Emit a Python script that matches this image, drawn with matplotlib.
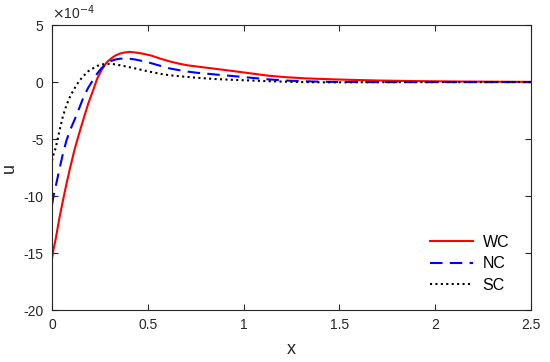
import matplotlib
matplotlib.use("Agg")
import matplotlib.pyplot as plt

plt.rcParams['font.family'] = ['Liberation Sans', 'DejaVu Sans']

x = [0, 0.009, 0.019, 0.038, 0.057, 0.076, 0.095, 0.118, 0.142, 0.165, 0.189, 0.213,
     0.236, 0.26, 0.284, 0.307, 0.331, 0.354, 0.378, 0.406, 0.435, 0.473, 0.52,
     0.567, 0.614, 0.662, 0.709, 0.756, 0.851, 0.945, 1.04, 1.13, 1.23, 1.32,
     1.42, 1.51, 1.70, 1.89, 2.13, 2.5]
wc = [-15.5, -14.6, -13.8, -12.0, -10.4, -8.9, -7.5, -5.9, -4.5, -3.2, -1.9, -0.8,
      0.3, 1.1, 1.7, 2.05, 2.33, 2.5, 2.6, 2.65, 2.6, 2.5, 2.32,
      2.05, 1.82, 1.62, 1.47, 1.37, 1.17, 0.97, 0.76, 0.56, 0.42, 0.33,
      0.27, 0.22, 0.14, 0.09, 0.05, 0.02]
nc = [-10.8, -9.9, -9.2, -7.7, -6.3, -5.1, -4.2, -3.3, -2.3, -1.3, -0.5, 0.15,
      0.75, 1.25, 1.6, 1.85, 1.98, 2.05, 2.07, 2.05, 1.98, 1.85, 1.65,
      1.42, 1.2, 1.05, 0.92, 0.82, 0.67, 0.53, 0.38, 0.24, 0.13, 0.07,
      0.03, 0.01, 0.0, 0.0, 0.0, 0.0]
sc = [-6.9, -6.3, -5.8, -4.35, -3.0, -2.0, -1.25, -0.55, 0.1, 0.55, 0.95, 1.2,
      1.42, 1.55, 1.6, 1.6, 1.55, 1.48, 1.4, 1.3, 1.2, 1.05, 0.88,
      0.72, 0.6, 0.52, 0.45, 0.38, 0.27, 0.2, 0.14, 0.08, 0.03, 0.0,
      -0.02, -0.02, -0.01, 0.0, 0.0, 0.0]

xticks = [0, 0.5, 1, 1.5, 2, 2.5]
xticklabels = ['0', '0.5', '1', '1.5', '2', '2.5']
yticks = [-20, -15, -10, -5, 0, 5]
yticklabels = ['-20', '-15', '-10', '-5', '0', '5']

fig = plt.figure(figsize=(5.5, 3.62), dpi=100)
ax = fig.add_axes([0.0945, 0.1436, 0.871, 0.787])

ax.plot(x, wc, color='#ff0000', lw=1.5, ls='-', label='WC')
ax.plot(x, nc, color='#0000ff', lw=1.5, ls=(0, (6, 3.5)), label='NC')
ax.plot(x, sc, color='black', lw=1.5, ls=(0, (1, 1.6)), label='SC')

ax.set_xlim(0, 2.5)
ax.set_ylim(-20, 5)
ax.set_xticks(xticks)
ax.set_xticklabels(xticklabels)
ax.set_yticks(yticks)
ax.set_yticklabels(yticklabels)
ax.tick_params(direction='in', top=True, right=True, labelsize=10,
               colors='#262626', length=4, width=0.8, pad=6)
for s in ax.spines.values():
    s.set_color('#262626')
    s.set_linewidth(0.8)

ax.set_xlabel('x', fontsize=13, color='#262626', labelpad=6)
ax.set_ylabel('u', fontsize=13, color='#262626', labelpad=4)
ax.text(0.0, 1.01, r'$\times$10$^{-4}$', transform=ax.transAxes, fontsize=10,
        color='#262626', ha='left', va='bottom')

leg = ax.legend(loc='upper left', frameon=False, fontsize=11.5,
                handlelength=2.7, handletextpad=0.6, borderpad=0,
                borderaxespad=0, labelspacing=0.42,
                bbox_to_anchor=(0.789, 0.265))

fig.savefig('out.png', dpi=100)
